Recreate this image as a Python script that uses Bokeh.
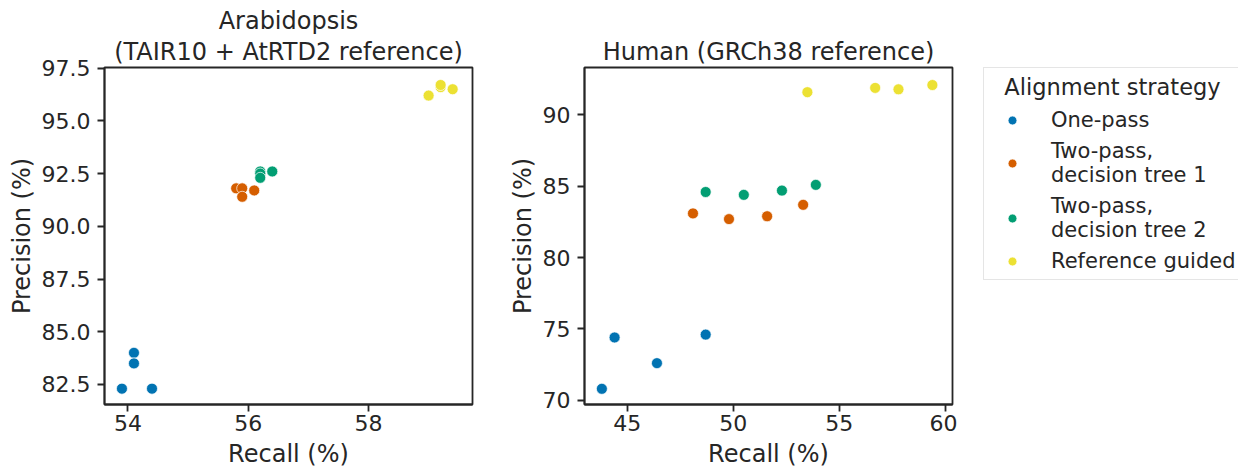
from bokeh.plotting import figure
from bokeh.layouts import row
from bokeh.models import (Title, Legend, LegendItem, FixedTicker, Range1d,
                          PrintfTickFormatter)
from bokeh.embed import file_html
from bokeh.resources import INLINE

# Alignment strategies and their colours
strategies = ["One-pass", "Two-pass,\ndecision tree 1",
              "Two-pass,\ndecision tree 2", "Reference guided"]
colors = ["#0173b2", "#d55e00", "#029e73", "#ece133"]

# Arabidopsis (TAIR10 + AtRTD2 reference): recall / precision (%)
ath_one_pass_recall = [53.9, 54.1, 54.1, 54.4]
ath_one_pass_precision = [82.3, 84.0, 83.5, 82.3]
ath_tree1_recall = [55.8, 55.9, 55.9, 56.1]
ath_tree1_precision = [91.8, 91.8, 91.4, 91.7]
ath_tree2_recall = [56.2, 56.2, 56.2, 56.4]
ath_tree2_precision = [92.6, 92.5, 92.3, 92.6]
ath_guided_recall = [59.0, 59.2, 59.2, 59.4]
ath_guided_precision = [96.2, 96.6, 96.7, 96.5]

# Human (GRCh38 reference): recall / precision (%)
hs_one_pass_recall = [43.8, 44.4, 46.4, 48.7]
hs_one_pass_precision = [70.8, 74.4, 72.6, 74.6]
hs_tree1_recall = [48.1, 49.8, 51.6, 53.3]
hs_tree1_precision = [83.1, 82.7, 82.9, 83.7]
hs_tree2_recall = [48.7, 50.5, 52.3, 53.9]
hs_tree2_precision = [84.6, 84.4, 84.7, 85.1]
hs_guided_recall = [53.5, 56.7, 57.8, 59.4]
hs_guided_precision = [91.6, 91.9, 91.8, 92.1]

ath_x_ticks = [54, 56, 58]
ath_y_ticks = [82.5, 85.0, 87.5, 90.0, 92.5, 95.0, 97.5]
hs_x_ticks = [45, 50, 55, 60]
hs_y_ticks = [70, 75, 80, 85, 90]

FONT = "DejaVu Sans"
INK = "#262626"


def make_panel(width, border_left, border_right, x_range, y_range,
               x_ticks, y_ticks, y_format):
    p = figure(width=width, height=470, title=None,
               x_range=Range1d(*x_range), y_range=Range1d(*y_range),
               output_backend="svg", toolbar_location=None,
               min_border_left=border_left, min_border_right=border_right,
               min_border_top=65, min_border_bottom=64)
    p.grid.visible = False
    p.background_fill_color = "white"
    p.border_fill_color = "white"
    p.outline_line_color = INK
    p.outline_line_width = 1.8
    p.outline_line_alpha = 1.0

    p.xaxis.ticker = FixedTicker(ticks=x_ticks)
    p.yaxis.ticker = FixedTicker(ticks=y_ticks)
    p.yaxis.formatter = PrintfTickFormatter(format=y_format)
    p.axis.axis_line_color = INK
    p.axis.axis_line_width = 1.8
    p.axis.major_tick_line_color = INK
    p.axis.major_tick_line_width = 1.8
    p.axis.major_tick_out = 7
    p.axis.major_tick_in = 0
    p.axis.minor_tick_line_color = None
    p.axis.major_label_text_font = FONT
    p.axis.major_label_text_font_size = "22px"
    p.axis.major_label_text_color = INK
    p.axis.axis_label_text_font = FONT
    p.axis.axis_label_text_font_size = "24px"
    p.axis.axis_label_text_font_style = "normal"
    p.axis.axis_label_text_color = INK
    p.xaxis.major_label_standoff = 3
    p.yaxis.major_label_standoff = 7
    p.xaxis.axis_label_standoff = 6
    p.yaxis.axis_label_standoff = 3
    p.xaxis.axis_label = "Recall (%)"
    p.yaxis.axis_label = "Precision (%)"
    return p


def add_title(p, text, standoff):
    p.add_layout(Title(text=text, align="center", text_font=FONT,
                       text_font_size="24px", text_font_style="normal",
                       text_color=INK, standoff=standoff), "above")


def add_points(p, xs, ys, color):
    return p.scatter(xs, ys, size=11, fill_color=color, line_color="white",
                     line_width=0.7, marker="circle")


# Left panel: Arabidopsis
p1 = make_panel(505, 104, 33, (53.61, 59.73), (81.55, 97.53),
                ath_x_ticks, ath_y_ticks, "%.1f")
add_title(p1, "(TAIR10 + AtRTD2 reference)", 4)
add_title(p1, "Arabidopsis", -3)
ath_series = [(ath_one_pass_recall, ath_one_pass_precision),
              (ath_tree1_recall, ath_tree1_precision),
              (ath_tree2_recall, ath_tree2_precision),
              (ath_guided_recall, ath_guided_precision)]
for (xs, ys), c in zip(ath_series, colors):
    add_points(p1, xs, ys, c)

# Right panel: Human
p2 = make_panel(452, 79, 5, (42.98, 60.35), (69.7, 93.33),
                hs_x_ticks, hs_y_ticks, "%d")
add_title(p2, "Human (GRCh38 reference)", 4)
hs_series = [(hs_one_pass_recall, hs_one_pass_precision),
             (hs_tree1_recall, hs_tree1_precision),
             (hs_tree2_recall, hs_tree2_precision),
             (hs_guided_recall, hs_guided_precision)]
for (xs, ys), c in zip(hs_series, colors):
    add_points(p2, xs, ys, c)

# Legend strip: an axis-free figure carrying the shared key. Its renderers
# reuse the human series, which fall outside this strip's unit ranges.
p3 = figure(width=281, height=470, title=None, output_backend="svg",
            toolbar_location=None, x_axis_location=None, y_axis_location=None,
            min_border_left=26, min_border_top=67, min_border_right=0,
            min_border_bottom=0, x_range=Range1d(0, 1), y_range=Range1d(0, 1))
p3.grid.visible = False
p3.outline_line_color = None
p3.background_fill_color = "white"
p3.border_fill_color = "white"
key_renderers = [add_points(p3, xs, ys, c) for (xs, ys), c in zip(hs_series, colors)]

legend = Legend(
    items=[LegendItem(label=s, renderers=[r]) for s, r in zip(strategies, key_renderers)],
    location="top_left",
    title="\u00a0\u00a0Alignment strategy",
    title_text_font=FONT, title_text_font_size="22.5px",
    title_text_font_style="normal", title_text_color=INK,
    title_standoff=8,
    label_text_font=FONT, label_text_font_size="21px", label_text_color=INK,
    label_text_line_height=1.05,
    glyph_width=44, glyph_height=22, label_standoff=17,
    padding=6, spacing=7, margin=0,
    border_line_color="#cccccc", border_line_width=1,
    background_fill_color="white", background_fill_alpha=0.9,
)
p3.add_layout(legend, "center")

layout = row(p1, p2, p3)
open("out.html", "w").write(file_html(layout, INLINE))
